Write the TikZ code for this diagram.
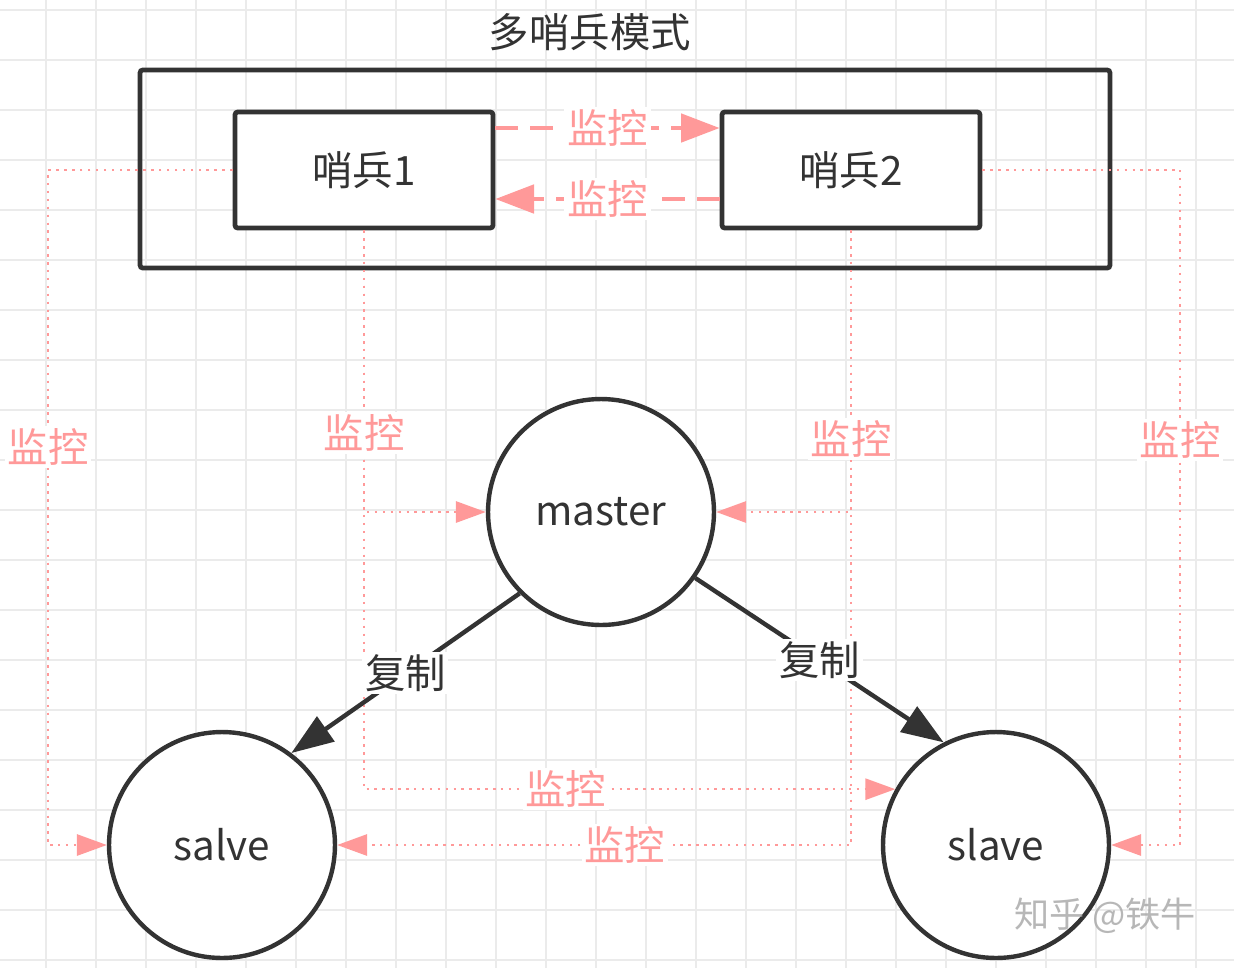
\documentclass[tikz,border=0pt]{standalone}
\usepackage{fontspec}
\setmainfont{Noto Sans CJK SC}
\usetikzlibrary{arrows.meta,calc}
\definecolor{pinkline}{HTML}{FF9999}
\definecolor{darkline}{HTML}{333333}
\definecolor{gridgray}{HTML}{EBEBEB}

\begin{document}
\begin{tikzpicture}[
    x=0.02cm, y=-0.02cm,
    gridline/.style={draw=gridgray, line width=1pt},
    group/.style={draw=darkline, line width=2.7pt, rounded corners=1.5pt, minimum width=19.4cm, minimum height=3.96cm, inner sep=0pt},
    sentinel/.style={draw=darkline, line width=2.7pt, rounded corners=1.5pt, fill=white, minimum width=5.16cm, minimum height=2.32cm, font=\fontsize{23}{27}\selectfont, text=darkline},
    redis/.style={circle, draw=darkline, line width=2.5pt, fill=white, minimum size=4.52cm, inner sep=0pt, font=\fontsize{23}{27}\selectfont, text=darkline},
    ctrl/.style={-{Triangle[length=22pt, width=16pt]}, draw=pinkline, line width=2.6pt, dash pattern=on 13pt off 7pt},
    mon/.style={-{Triangle[length=17pt, width=12pt]}, draw=pinkline, line width=1.4pt, dash pattern=on 1.4pt off 3.1pt},
    copy/.style={-{Triangle[length=24pt, width=17pt]}, draw=darkline, line width=2.5pt},
    lbl/.style={fill=white, inner sep=1.5pt, text=pinkline, font=\fontsize{23}{27}\selectfont},
    lbldark/.style={fill=white, inner sep=1.5pt, text=darkline, font=\fontsize{23}{27}\selectfont}
]
\useasboundingbox (0,0) rectangle (1234,968);
\fill[white] (0,0) rectangle (1234,968);

% Background grid
\foreach \gx in {46,96,...,1246} \draw[gridline] (\gx,0) -- (\gx,968);
\foreach \gy in {10,60,...,960} \draw[gridline] (0,\gy) -- (1234,\gy);

% Sentinel group
\node[font=\fontsize{23}{27}\selectfont, text=darkline] (ttl) at (590,32) {多哨兵模式};
\node[group] (grp) at (625,169) {};
\node[sentinel] (s1) at (364,170) {哨兵1};
\node[sentinel] (s2) at (851,170) {哨兵2};

% Redis nodes
\node[redis] (master) at (601,512) {master};
\node[redis] (salve) at (222,845) {salve};
\node[redis] (slave) at (996,845) {slave};

% Sentinels watch each other
\draw[ctrl] ($(s1.east)+(0,-42)$) -- node[lbl]{监控} ($(s2.west)+(0,-42)$);
\draw[ctrl] ($(s2.west)+(0,29)$) -- node[lbl]{监控} ($(s1.east)+(0,29)$);

% Sentinels watch the redis nodes
\coordinate (lturn) at (48,170);
\coordinate (rturn) at (1180,170);
\draw[mon] (s1.west) -- (lturn) |- node[lbl, pos=0.205]{监控} (salve.west);
\draw[mon] (s2.east) -- (rturn) |- node[lbl, pos=0.2]{监控} (slave.east);
\draw[mon] (s1.south) |- node[lbl, pos=0.69]{监控} (slave.151);
\draw[mon] (s2.south) |- node[lbl, pos=0.72]{监控} (salve.east);
\draw[mon] (s1.south) |- node[lbl, pos=0.36]{监控} (master.west);
\draw[mon] (s2.south) |- node[lbl, pos=0.37]{监控} (master.east);

% Replication
\draw[copy] (master.225) -- node[lbldark]{复制} (salve.53);
\draw[copy] (master.325) -- node[lbldark]{复制} (slave.117);

% Watermark
\node[font=\fontsize{20}{24}\selectfont, text=gray!70, opacity=0.8] (mark) at (1105,916) {知乎 @铁牛};

\end{tikzpicture}
\end{document}
